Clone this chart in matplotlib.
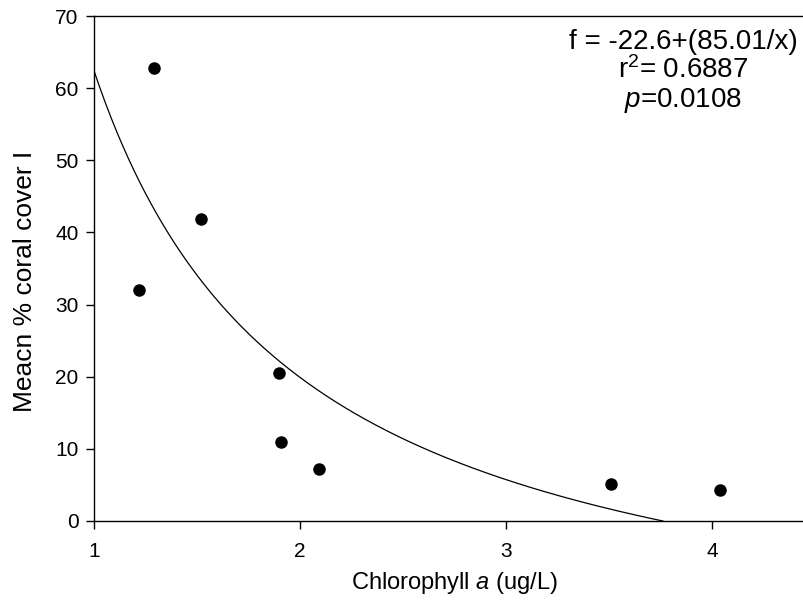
import numpy as np
import matplotlib
matplotlib.use("Agg")
import matplotlib.pyplot as plt

# data
chl = [1.22, 1.29, 1.52, 1.90, 1.91, 2.09, 3.51, 4.04]
cover = [32.0, 62.8, 41.8, 20.5, 11.0, 7.2, 5.1, 4.3]

# fitted model f = y0 + a/x
y0 = -22.6
a = 85.01
fit_text = ["f = -22.6+(85.01/x)", "r$^2$= 0.6887", "$p$=0.0108"]

plt.rcParams["font.family"] = ["Liberation Sans", "DejaVu Sans"]
plt.rcParams["mathtext.fontset"] = "custom"
plt.rcParams["mathtext.rm"] = "Liberation Sans"
plt.rcParams["mathtext.it"] = "Liberation Sans:italic"

W, H = 804, 607
fig = plt.figure(figsize=(W / 100, H / 100), dpi=100)
ax = fig.add_axes([94 / W, (H - 521) / H, (815 - 94) / W, (521 - 16) / H])

# fitted curve, from x=1 until it hits zero
x_end = -a / y0
xs = np.linspace(1, x_end, 300)
ax.plot(xs, y0 + a / xs, color="black", lw=0.9)

ax.plot(chl, cover, "o", color="black", markersize=8, clip_on=False)

ax.set_xlim(1, 4.5)
ax.set_ylim(0, 70)
ax.set_xticks([1, 2, 3, 4])
ax.set_yticks(range(0, 71, 10))
ax.tick_params(direction="out", length=6, width=1, labelsize=15, pad=5)
ax.tick_params(axis="x", pad=9)
for s in ax.spines.values():
    s.set_linewidth(1.0)

ax.set_xlabel("Chlorophyll $\\it{a}$ (ug/L)", fontsize=17, va="center")
ax.xaxis.set_label_coords(0.5, -0.123)
ax.set_ylabel("Meacn % coral cover I", fontsize=19, va="center")
ax.yaxis.set_label_coords(-0.096, 0.475)

ax.text(683, H - 72, "\n".join(fit_text), transform=None, fontsize=20,
        ha="center", va="center", linespacing=1.08)

fig.savefig("out.png", dpi=100)
